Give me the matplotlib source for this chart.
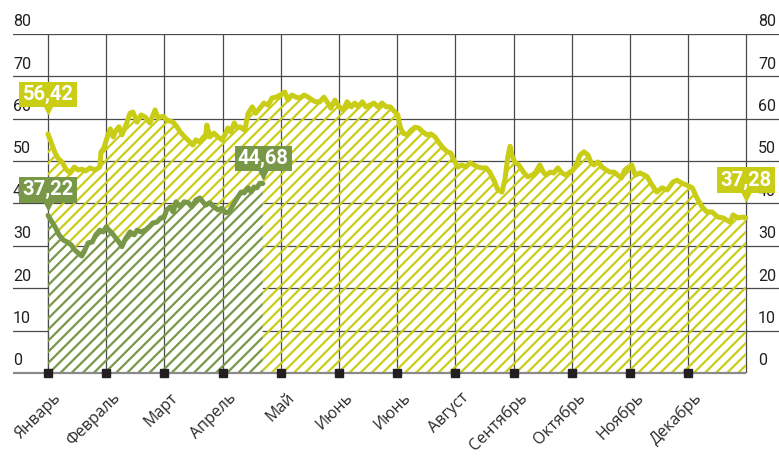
import matplotlib
matplotlib.use("Agg")
import matplotlib.pyplot as plt
import numpy as np

# --- данные (месяц как дробь года: 0 = начало января, 12 = конец декабря) ---
months = ["Январь", "Февраль", "Март", "Апрель", "Май", "Июнь",
          "Июнь", "Август", "Сентябрь", "Октябрь", "Ноябрь", "Декабрь"]

yellow_t = [0.00, 0.07, 0.12, 0.17, 0.24, 0.31, 0.38, 0.45, 0.52, 0.58, 0.65, 0.72,
            0.81, 0.89, 0.91, 0.96, 1.03, 1.07, 1.12, 1.17, 1.22, 1.27, 1.34, 1.41,
            1.46, 1.53, 1.60, 1.67, 1.75, 1.84, 1.89, 1.98, 2.04, 2.15, 2.22, 2.27,
            2.35, 2.44, 2.49, 2.54, 2.61, 2.66, 2.71, 2.73, 2.78, 2.85, 2.92, 2.99,
            3.04, 3.09, 3.14, 3.20, 3.25, 3.30, 3.38, 3.44, 3.51, 3.57, 3.64, 3.71,
            3.78, 3.85, 3.92, 3.99, 4.07, 4.12, 4.19, 4.26, 4.33, 4.40, 4.47, 4.54,
            4.60, 4.67, 4.74, 4.81, 4.86, 4.93, 5.00, 5.07, 5.14, 5.21, 5.27, 5.33,
            5.40, 5.46, 5.53, 5.60, 5.67, 5.74, 5.81, 5.88, 5.96, 6.01, 6.05, 6.10,
            6.17, 6.24, 6.31, 6.37, 6.44, 6.51, 6.58, 6.65, 6.72, 6.79, 6.86, 6.92,
            6.99, 7.04, 7.11, 7.18, 7.25, 7.32, 7.39, 7.46, 7.53, 7.59, 7.66, 7.73,
            7.80, 7.85, 7.90, 7.94, 7.97, 8.02, 8.09, 8.17, 8.24, 8.32, 8.38, 8.45,
            8.51, 8.56, 8.63, 8.69, 8.76, 8.83, 8.90, 8.97, 9.02, 9.09, 9.14, 9.21,
            9.28, 9.33, 9.38, 9.45, 9.52, 9.59, 9.66, 9.73, 9.79, 9.85, 9.91, 9.98,
            10.03, 10.09, 10.17, 10.29, 10.40, 10.46, 10.55, 10.64, 10.74, 10.81,
            10.89, 10.98, 11.07, 11.15, 11.24, 11.32, 11.41, 11.51, 11.60, 11.72,
            11.77, 11.86, 11.94, 11.99]
yellow_v = [56.4, 53.8, 52.0, 50.7, 49.8, 48.1, 47.2, 48.6, 47.9, 48.1, 47.7, 48.4,
            47.9, 48.6, 52.1, 53.1, 56.2, 57.6, 55.7, 57.3, 58.1, 56.2, 58.5, 61.3,
            61.6, 59.2, 60.9, 60.4, 59.0, 62.1, 60.2, 60.6, 59.7, 59.2, 58.0, 56.9,
            55.7, 54.5, 53.8, 55.0, 54.5, 55.5, 56.2, 58.5, 55.7, 56.6, 55.7, 55.0,
            56.2, 57.8, 56.9, 59.0, 57.8, 58.1, 57.3, 61.3, 62.8, 61.3, 62.5, 63.7,
            63.2, 64.9, 65.1, 65.6, 66.3, 64.4, 65.6, 65.1, 64.9, 65.6, 65.1, 64.4,
            64.0, 64.0, 65.1, 63.7, 62.5, 64.4, 62.8, 62.1, 64.0, 62.8, 63.7, 62.8,
            64.0, 62.8, 63.2, 63.7, 62.8, 63.7, 62.8, 62.8, 61.6, 60.9, 58.1, 56.6,
            56.2, 57.3, 58.0, 57.8, 56.9, 56.2, 56.4, 55.7, 54.3, 53.1, 52.2, 51.9,
            49.8, 48.6, 49.1, 48.6, 49.6, 49.1, 48.6, 48.4, 48.4, 47.4, 45.5, 43.2,
            42.7, 45.5, 51.0, 53.5, 51.4, 49.8, 49.1, 47.4, 46.3, 46.7, 47.4, 49.1,
            47.4, 46.7, 47.4, 47.2, 48.4, 47.2, 46.7, 47.4, 47.9, 49.6, 51.4, 52.2,
            51.4, 49.6, 49.1, 49.8, 48.6, 47.9, 47.4, 47.4, 46.7, 46.0, 47.9, 48.6,
            49.1, 46.7, 47.2, 46.4, 43.9, 42.7, 43.7, 43.2, 45.1, 45.5,
            44.8, 44.3, 43.7, 41.3, 39.2, 38.0, 38.0, 36.8, 36.6, 35.6,
            37.3, 36.6, 36.8, 36.6]

green_t = [0.00, 0.07, 0.12, 0.19, 0.26, 0.33, 0.40, 0.46, 0.52, 0.58, 0.62, 0.69,
           0.76, 0.82, 0.89, 0.95, 1.00, 1.05, 1.10, 1.15, 1.22, 1.27, 1.32, 1.41,
           1.48, 1.53, 1.60, 1.67, 1.74, 1.80, 1.87, 1.94, 1.99, 2.04, 2.10, 2.15,
           2.20, 2.27, 2.34, 2.41, 2.47, 2.54, 2.61, 2.66, 2.71, 2.78, 2.85, 2.92,
           2.99, 3.04, 3.11, 3.16, 3.21, 3.26, 3.32, 3.37, 3.44, 3.49, 3.54, 3.59,
           3.64, 3.69]
green_v = [37.2, 35.6, 34.5, 32.6, 31.4, 30.9, 30.2, 29.0, 28.3, 27.6, 28.6, 30.7,
           30.9, 32.6, 33.7, 33.3, 34.5, 33.7, 33.0, 32.1, 30.9, 29.8, 31.4, 33.3,
           32.6, 33.7, 33.3, 33.7, 34.5, 35.4, 35.6, 36.6, 36.6, 38.5, 39.2, 38.0,
           40.4, 39.2, 40.4, 40.2, 39.2, 40.8, 41.3, 40.4, 39.6, 40.2, 39.2, 38.5,
           38.9, 37.8, 38.0, 39.2, 40.4, 41.5, 42.7, 42.5, 43.7, 42.7, 43.9, 43.7,
           44.8, 44.7]

y_ticks = [0, 10, 20, 30, 40, 50, 60, 70, 80]

YELLOW = "#C9CD16"
GREEN = "#789848"
GRID = "#4A4A4A"
TEXT = "#231F20"

plt.rcParams["font.family"] = ["Open Sans", "DejaVu Sans"]
plt.rcParams["hatch.linewidth"] = 1.6

fig = plt.figure(figsize=(7.79, 4.61), dpi=100)
ax = fig.add_axes([13 / 779, 88 / 461, 766 / 779, 339 / 461])
ax.set_xlim(-35 / 58.2, 731 / 58.2)
ax.set_ylim(0, 80)
ax.axis("off")

# сетка
for v in y_ticks[1:]:
    ax.axhline(v, color=GRID, lw=0.9, zorder=1)
ax.plot([ax.get_xlim()[0], 12], [0, 0], color="#8A8A8A", lw=1.6,
        zorder=6, clip_on=False, solid_capstyle="butt")
ax.vlines(range(13), 0, 80, color=GRID, lw=0.9, zorder=1)

# желтая область
ax.fill_between(yellow_t, 0, yellow_v, facecolor="none", edgecolor=YELLOW,
                hatch="///", linewidth=0, zorder=2)
# зеленая область (белая подложка закрывает желтую штриховку)
ax.fill_between(green_t, 0, green_v, facecolor="white", linewidth=0, zorder=3)
gx = [m for m in range(13) if m <= green_t[-1]]
ax.vlines(gx, 0, np.interp(gx, green_t, green_v), color=GRID, lw=0.9, zorder=3.5)
ax.fill_between(green_t, 0, green_v, facecolor="none", edgecolor=GREEN,
                hatch="///", linewidth=0, zorder=4)

ax.plot(yellow_t, yellow_v, color=YELLOW, lw=3.6, zorder=5,
        solid_joinstyle="round", solid_capstyle="round")
ax.plot(green_t, green_v, color=GREEN, lw=3.6, zorder=5,
        solid_joinstyle="round", solid_capstyle="round")

# подписи оси Y слева и справа
for v in y_ticks:
    ax.text(-35 / 58.2, v + 1.1, str(v), ha="left", va="bottom", fontsize=11.5,
            color=TEXT, family=["Roboto", "DejaVu Sans"], zorder=7)
    ax.text(710 / 58.2, v + 1.1, str(v), ha="left", va="bottom", fontsize=11.5,
            color=TEXT, family=["Roboto", "DejaVu Sans"], zorder=7, clip_on=False)

# метки месяцев
ax.plot(range(12), [0] * 12, "s", color=TEXT, ms=6, zorder=8, clip_on=False)
for i, name in enumerate(months):
    ax.annotate(name, (i, 0), xytext=(4, -12), textcoords="offset points",
                rotation=45, rotation_mode="anchor", ha="right", va="top",
                fontsize=11.5, color="#2A2A2A", annotation_clip=False)

# плашки со значениями
labels = [("56,42", 0.0, 65.7, 62.6, YELLOW),
          ("37,22", 0.0, 43.2, 39.8, GREEN),
          ("44,68", 3.70, 50.6, 47.2, GREEN),
          ("37,28", 11.99, 45.5, 41.9, YELLOW)]
for txt, x, y, ytri, col in labels:
    ax.plot(x, ytri, "v", color=col, ms=8, zorder=9, clip_on=False)
    ax.text(x, y, txt, ha="center", va="center", fontsize=14.5, fontweight="bold",
            color="white", family=["Roboto", "DejaVu Sans"], zorder=10,
            bbox=dict(boxstyle="square,pad=0.16", fc=col, ec="none"))

fig.savefig("out.png", dpi=100)
